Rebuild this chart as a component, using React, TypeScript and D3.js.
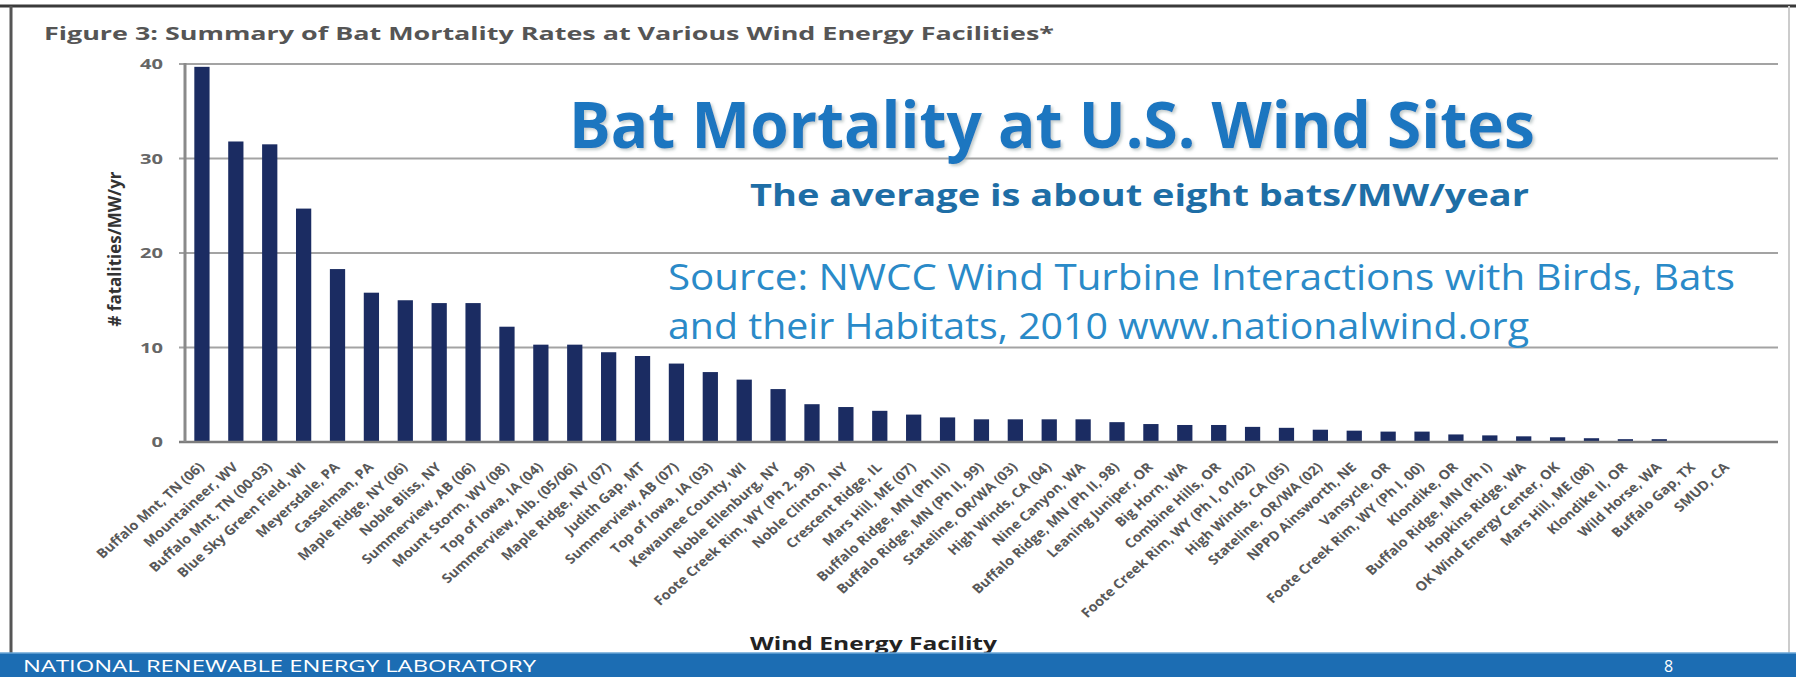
import * as d3 from "d3";
import React, { RefObject, useEffect, useRef } from "react";

// facilities, sorted as in the figure
const facilities: string[] = [
  "Buffalo Mnt, TN (06)",
  "Mountaineer, WV",
  "Buffalo Mnt, TN (00-03)",
  "Blue Sky Green Field, WI",
  "Meyersdale, PA",
  "Casselman, PA",
  "Maple Ridge, NY (06)",
  "Noble Bliss, NY",
  "Summerview, AB (06)",
  "Mount Storm, WV (08)",
  "Top of Iowa, IA (04)",
  "Summerview, Alb. (05/06)",
  "Maple Ridge, NY (07)",
  "Judith Gap, MT",
  "Summerview, AB (07)",
  "Top of Iowa, IA (03)",
  "Kewaunee County, WI",
  "Noble Ellenburg, NY",
  "Foote Creek Rim, WY (Ph 2, 99)",
  "Noble Clinton, NY",
  "Crescent Ridge, IL",
  "Mars Hill, ME (07)",
  "Buffalo Ridge, MN (Ph III)",
  "Buffalo Ridge, MN (Ph II, 99)",
  "Stateline, OR/WA (03)",
  "High Winds, CA (04)",
  "Nine Canyon, WA",
  "Buffalo Ridge, MN (Ph II, 98)",
  "Leaning Juniper, OR",
  "Big Horn, WA",
  "Combine Hills, OR",
  "Foote Creek Rim, WY (Ph I, 01/02)",
  "High Winds, CA (05)",
  "Stateline, OR/WA (02)",
  "NPPD Ainsworth, NE",
  "Vansycle, OR",
  "Foote Creek Rim, WY (Ph I, 00)",
  "Klondike, OR",
  "Buffalo Ridge, MN (Ph I)",
  "Hopkins Ridge, WA",
  "OK Wind Energy Center, OK",
  "Mars Hill, ME (08)",
  "Klondike II, OR",
  "Wild Horse, WA",
  "Buffalo Gap, TX",
  "SMUD, CA",
];

// fatalities / MW / yr
const fatalities: number[] = [
  39.7, 31.8, 31.5, 24.7, 18.3, 15.8, 15.0, 14.7, 14.7, 12.2, 10.3, 10.3, 9.5,
  9.1, 8.3, 7.4, 6.6, 5.6, 4.0, 3.7, 3.3, 2.9, 2.6, 2.4, 2.4, 2.4, 2.4, 2.1,
  1.9, 1.8, 1.8, 1.6, 1.5, 1.3, 1.2, 1.1, 1.1, 0.8, 0.7, 0.6, 0.5, 0.4, 0.3,
  0.3, 0.1, 0.05,
];

const yTicks: number[] = [0, 10, 20, 30, 40];

const figureTitle =
  "Figure 3: Summary of Bat Mortality Rates at Various Wind Energy Facilities*";
const heading = "Bat Mortality at U.S. Wind Sites";
const subheading = "The average is about eight bats/MW/year";
const sourceLines: string[] = [
  "Source: NWCC Wind Turbine Interactions with Birds, Bats",
  "and their Habitats, 2010 www.nationalwind.org",
];
const footerText = "NATIONAL RENEWABLE ENERGY LABORATORY";
const pageNumber = "8";

const W = 1796;
const H = 677;
const FONT = "'Open Sans', 'DejaVu Sans', sans-serif";

const BatChart = () => {
  const d3Ref: RefObject<HTMLDivElement> = useRef(null);

  const drawChart = () => {
    d3.select(d3Ref.current).selectAll("*").remove();
    const svg = d3
      .select(d3Ref.current)
      .append("svg")
      .attr("width", W)
      .attr("height", H)
      .style("display", "block")
      .style("background", "#fff");

    const defs = svg.append("defs");
    defs
      .append("filter")
      .attr("id", "soft")
      .append("feDropShadow")
      .attr("dx", 2)
      .attr("dy", 2)
      .attr("stdDeviation", 1.5)
      .attr("flood-color", "#9aa")
      .attr("flood-opacity", 0.6);

    // slide frame
    svg.append("rect").attr("x", 0).attr("y", 0).attr("width", W).attr("height", H).attr("fill", "#fff");
    svg.append("line").attr("x1", 0).attr("x2", W).attr("y1", 6).attr("y2", 6).attr("stroke", "#3a3a3a").attr("stroke-width", 3);
    svg.append("line").attr("x1", 11).attr("x2", 11).attr("y1", 6).attr("y2", 653).attr("stroke", "#555").attr("stroke-width", 3);
    svg.append("line").attr("x1", 1789).attr("x2", 1789).attr("y1", 6).attr("y2", 653).attr("stroke", "#ccc").attr("stroke-width", 2);

    const left = 185;
    const right = 1778;
    const x = d3.scaleBand<string>().domain(facilities).range([left, 1744]).paddingInner(0.55).paddingOuter(0.275);
    const y = d3.scaleLinear().domain([0, 40]).range([442, 64]);

    // gridlines
    svg
      .append("g")
      .selectAll("line")
      .data(yTicks.filter((t) => t > 0))
      .enter()
      .append("line")
      .attr("x1", left - 6)
      .attr("x2", right)
      .attr("y1", (d) => y(d))
      .attr("y2", (d) => y(d))
      .attr("stroke", "#a3a3a3")
      .attr("stroke-width", 2);

    // tick labels
    svg
      .append("g")
      .selectAll("text")
      .data(yTicks)
      .enter()
      .append("text")
      .attr("x", 163)
      .attr("y", (d) => y(d) + 5)
      .attr("text-anchor", "end")
      .attr("textLength", (d) => String(d).length * 11.5)
      .attr("lengthAdjust", "spacingAndGlyphs")
      .attr("font-family", FONT)
      .attr("font-weight", "bold")
      .attr("font-size", 14)
      .attr("fill", "#666")
      .text((d) => String(d));

    // y axis title
    svg
      .append("text")
      .attr("transform", `translate(121, 249) rotate(-90)`)
      .attr("text-anchor", "middle")
      .attr("textLength", 155)
      .attr("lengthAdjust", "spacingAndGlyphs")
      .attr("font-family", FONT)
      .attr("font-weight", "bold")
      .attr("font-size", 17)
      .attr("fill", "#333")
      .text("# fatalities/MW/yr");

    // bars
    svg
      .append("g")
      .selectAll("rect")
      .data(fatalities)
      .enter()
      .append("rect")
      .attr("x", (d, i) => x(facilities[i]) as number)
      .attr("y", (d) => y(d))
      .attr("width", x.bandwidth())
      .attr("height", (d) => y(0) - y(d))
      .attr("fill", "#1b2c62");

    // axis lines
    svg.append("line").attr("x1", left - 6).attr("x2", right).attr("y1", y(0)).attr("y2", y(0)).attr("stroke", "#7d7d7d").attr("stroke-width", 2.5);
    svg.append("line").attr("x1", left).attr("x2", left).attr("y1", y(40) - 1).attr("y2", y(0)).attr("stroke", "#8a8a8a").attr("stroke-width", 3);

    // category labels (slanted like the stretched original)
    svg
      .append("g")
      .selectAll("text")
      .data(facilities)
      .enter()
      .append("text")
      .attr("transform", (d) => `translate(${(x(d) as number) + x.bandwidth() / 2 + 3}, 468) scale(1.12,1) rotate(-45)`)
      .attr("text-anchor", "end")
      .attr("font-family", FONT)
      .attr("font-weight", "bold")
      .attr("font-size", 13)
      .attr("fill", "#585858")
      .text((d) => d);

    svg
      .append("text")
      .attr("x", 750)
      .attr("y", 650)
      .attr("textLength", 247)
      .attr("lengthAdjust", "spacingAndGlyphs")
      .attr("font-family", FONT)
      .attr("font-weight", "bold")
      .attr("font-size", 17)
      .attr("fill", "#222")
      .text("Wind Energy Facility");

    // figure caption
    svg
      .append("text")
      .attr("x", 44)
      .attr("y", 40)
      .attr("textLength", 1010)
      .attr("lengthAdjust", "spacingAndGlyphs")
      .attr("font-family", FONT)
      .attr("font-weight", "bold")
      .attr("font-size", 17)
      .attr("fill", "#555")
      .text(figureTitle);

    // overlay texts
    svg
      .append("text")
      .attr("x", 569)
      .attr("y", 148)
      .attr("textLength", 966)
      .attr("lengthAdjust", "spacingAndGlyphs")
      .attr("font-family", FONT)
      .attr("font-weight", "bold")
      .attr("font-size", 65)
      .attr("fill", "#1a76c0")
      .attr("filter", "url(#soft)")
      .text(heading);

    svg
      .append("text")
      .attr("x", 750)
      .attr("y", 206)
      .attr("textLength", 779)
      .attr("lengthAdjust", "spacingAndGlyphs")
      .attr("font-family", FONT)
      .attr("font-weight", "bold")
      .attr("font-size", 30)
      .attr("fill", "#1e6ea6")
      .text(subheading);

    svg
      .append("g")
      .selectAll("text")
      .data(sourceLines)
      .enter()
      .append("text")
      .attr("x", 668)
      .attr("y", (d, i) => 290 + i * 49)
      .attr("textLength", (d, i) => (i === 0 ? 1067 : 861))
      .attr("lengthAdjust", "spacingAndGlyphs")
      .attr("font-family", FONT)
      .attr("font-size", 37)
      .attr("fill", "#2a8ac8")
      .text((d) => d);

    // footer band
    svg.append("rect").attr("x", 0).attr("y", 653).attr("width", W).attr("height", H - 653).attr("fill", "#1c6db3");
    svg.append("line").attr("x1", 0).attr("x2", W).attr("y1", 653).attr("y2", 653).attr("stroke", "#6aa6d6").attr("stroke-width", 1.5);
    svg
      .append("text")
      .attr("x", 23)
      .attr("y", 672)
      .attr("textLength", 513)
      .attr("lengthAdjust", "spacingAndGlyphs")
      .attr("font-family", FONT)
      .attr("font-size", 17)
      .attr("fill", "#fff")
      .text(footerText);
    svg
      .append("text")
      .attr("x", 1664)
      .attr("y", 672)
      .attr("font-family", FONT)
      .attr("font-size", 16)
      .attr("fill", "#fff")
      .text(pageNumber);
  };

  useEffect(() => {
    drawChart();
  }, [d3Ref]);

  return <div ref={d3Ref} style={{ position: "absolute", left: 0, top: 0 }} />;
};

export default function App() {
  return <BatChart />;
}
